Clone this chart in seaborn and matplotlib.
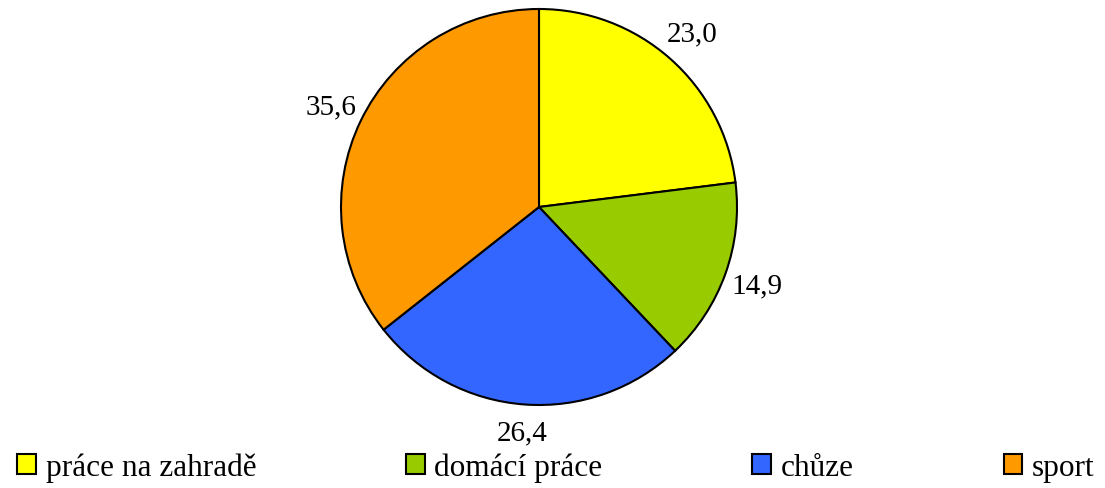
import matplotlib
matplotlib.use("Agg")
import matplotlib.pyplot as plt
import seaborn as sns

# data
categories = ["práce na zahradě", "domácí práce", "chůze", "sport"]
values = [23.0, 14.9, 26.4, 35.6]
colors = ["#FFFF00", "#99CC00", "#3366FF", "#FF9900"]

sns.set_theme(style="white")
plt.rcParams["font.family"] = ["Liberation Serif", "DejaVu Serif"]
plt.rcParams["text.color"] = "black"

fig = plt.figure(figsize=(11.05, 4.89), dpi=100)
W, H = 1105, 489
cx, cy, r = 539, 208, 198
ax = fig.add_axes([(cx - r) / W, (H - cy - r) / H, 2 * r / W, 2 * r / H])

labels = [f"{v:.1f}".replace(".", ",") for v in values]
wedges, texts = ax.pie(values, colors=sns.color_palette(colors), labels=labels,
                       startangle=90, counterclock=False, labeldistance=1.17,
                       wedgeprops=dict(edgecolor="black", linewidth=1.5),
                       textprops=dict(fontsize=21, color="black"))
for t in texts:
    t.set_horizontalalignment("center")
    t.set_verticalalignment("center")
# bottom label sits a bit closer to the pie in the original
x, y = texts[2].get_position()
texts[2].set_position((x, y * 0.975))
ax.set_xlim(-1, 1)
ax.set_ylim(-1, 1)
ax.axis("off")

leg = fig.legend(wedges, categories, loc="center", bbox_to_anchor=(0.503, (H - 468) / H),
                 ncol=4, frameon=False, fontsize=22.5, handlelength=0.6, handleheight=0.6,
                 handletextpad=0.3, columnspacing=4.8, borderaxespad=0)
for t in leg.get_texts():
    t.set_color("black")

fig.savefig("out.png", dpi=100, facecolor="white")
